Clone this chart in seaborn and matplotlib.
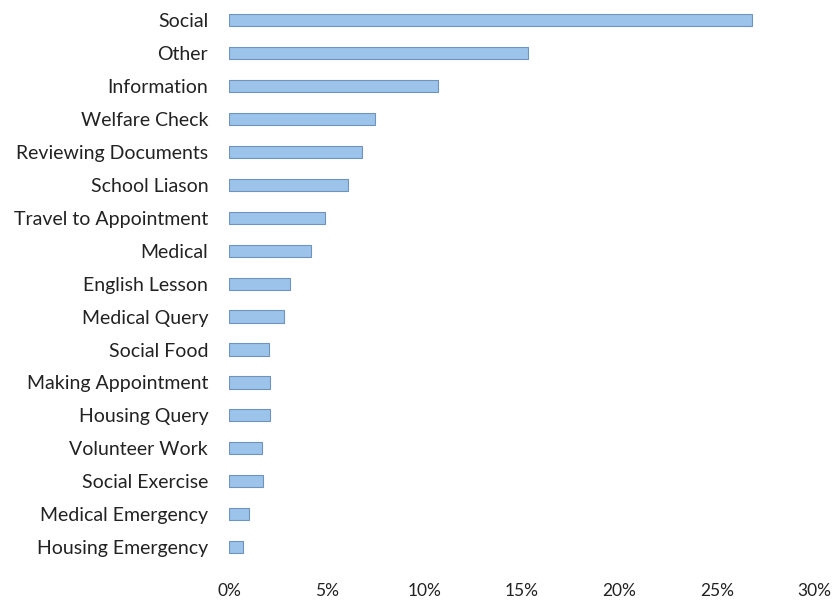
import numpy as np
import pandas as pd
import seaborn as sns
import matplotlib.pyplot as plt
from matplotlib.ticker import PercentFormatter

categories = ['Social', 'Other', 'Information', 'Welfare Check', 'Reviewing Documents',
              'School Liason', 'Travel to Appointment', 'Medical', 'English Lesson',
              'Medical Query', 'Social Food', 'Making Appointment', 'Housing Query',
              'Volunteer Work', 'Social Exercise', 'Medical Emergency', 'Housing Emergency']
shares = [26.8, 15.3, 10.7, 7.5, 6.8, 6.1, 4.9, 4.2, 3.1, 2.8, 2.05, 2.1, 2.1,
          1.7, 1.75, 1.0, 0.7]
x_ticks = [0, 5, 10, 15, 20, 25, 30]

df = pd.DataFrame({'category': categories, 'share': shares})

sns.set_style('white')
plt.rcParams['font.family'] = ['Lato', 'DejaVu Sans']

fig = plt.figure(figsize=(8.36, 6.08), dpi=100)
ax = fig.add_axes([0.274, 0.073, 0.7, 0.921])
sns.barplot(data=df, x='share', y='category', order=categories, color='#9cc4ea',
            width=0.37, edgecolor='#6f93ba', linewidth=0.8, saturation=1, ax=ax)

ax.set_xlim(0, 30)
ax.set_xticks(x_ticks)
ax.xaxis.set_major_formatter(PercentFormatter(decimals=0))
ax.set_xlabel('')
ax.set_ylabel('')
ax.tick_params(axis='both', length=0, colors='#222222')
ax.tick_params(axis='x', pad=14, labelsize=12.5)
ax.tick_params(axis='y', pad=15, labelsize=14)
sns.despine(ax=ax, left=True, bottom=True)

fig.savefig('out.png', dpi=100)
